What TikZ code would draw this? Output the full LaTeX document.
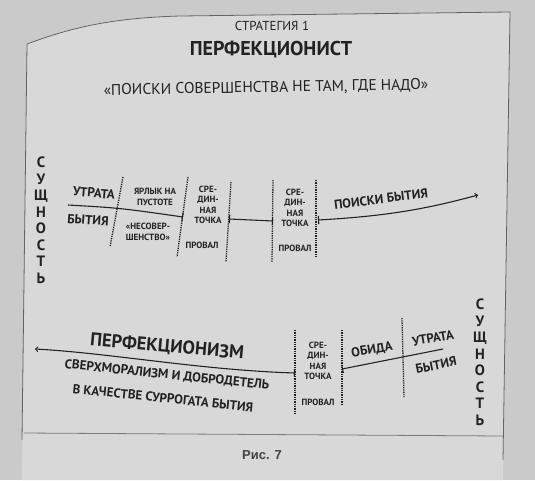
\documentclass[tikz,border=0pt]{standalone}
\usepackage{fontspec}
\setmainfont{PT Sans}
\newfontfamily\picfont{Liberation Sans}
\definecolor{ink}{HTML}{222222}
\definecolor{paper}{HTML}{D8D8D8}
\definecolor{desk}{HTML}{CACACA}
\tikzset{
  lbl/.style={font=\fontsize{9}{10.5}\selectfont\bfseries, text=ink, inner sep=0pt, align=center},
  word/.style={font=\fontsize{13}{14}\selectfont\bfseries, text=ink, inner sep=0pt},
  title/.style={font=\fontsize{20}{22}\selectfont\bfseries, text=ink, inner sep=0pt},
  vert/.style={font=\fontsize{15}{16.5}\selectfont\bfseries, text=ink, inner sep=0pt, align=center},
  divider/.style={densely dotted, line width=1.3pt, draw=ink},
  timeline/.style={line width=1.1pt, draw=ink}
}
\begin{document}
\begin{tikzpicture}[x=1pt,y=-1pt]
\useasboundingbox (0,0) rectangle (535,480);
\fill[desk] (0,0) rectangle (535,480);
% page
\fill[paper] (27,44) .. controls (70,28) and (110,18) .. (180,16) -- (510,12) -- (503,480) -- (22,480) -- cycle;
\draw[ink!70, line width=0.8pt] (22,440) -- (27,44) .. controls (70,28) and (110,18) .. (180,16) -- (510,12) -- (503,460);
\draw[ink!60, line width=0.8pt] (24,433) -- (503,436);

% heading
\node[font=\fontsize{13}{14}\selectfont, text=ink, inner sep=0pt] (S) at (272,26) {СТРАТЕГИЯ 1};
\node[title] (P) at (271,50) {ПЕРФЕКЦИОНИСТ};
\node[font=\fontsize{15.5}{17}\selectfont, text=ink, inner sep=0pt, rotate=1] (Q) at (266,88) {«ПОИСКИ СОВЕРШЕНСТВА НЕ ТАМ, ГДЕ НАДО»};

% upper timeline
\node[vert] (E1) at (41,220) {С\\У\\Щ\\Н\\О\\С\\Т\\Ь};
\coordinate (u1) at (68,205);
\coordinate (u2) at (183,217);
\coordinate (u3) at (229,219);
\coordinate (u4) at (273,221);
\coordinate (u5) at (318,220);
\coordinate (u6) at (478,195);
\draw[timeline,-|] (u1) .. controls (120,208) .. (u2);
\draw[timeline,|-|] (u3) -- (u4);
\draw[timeline,|->] (u5) .. controls (390,216) and (430,208) .. (u6);

% dotted dividers
\foreach \i/\xa/\ya/\xb/\yb in {1/123/177/110/247, 2/188/177/177/257, 3/231/182/226/262,
  4/273/180/272/262, 5/316/180/316/258, 6/295/330/295/413, 7/342/330/342/405, 8/402/318/404/397}{
  \coordinate (t\i) at (\xa,\ya);
  \coordinate (b\i) at (\xb,\yb);
  \draw[divider] (t\i) -- (b\i);
}

\node[word, rotate=-5] (A1) at (94,193) {УТРАТА};
\node[word, rotate=-4] (A2) at (88,220) {БЫТИЯ};
\node[lbl] (A3) at (155,197) {ЯРЛЫК НА\\ПУСТОТЕ};
\node[lbl] (A4) at (148,232) {«НЕСОВЕР-\\ШЕНСТВО»};
\node[lbl] (A5) at (208,205) {СРЕ-\\ДИН-\\НАЯ\\ТОЧКА};
\node[lbl] (A6) at (202,245) {ПРОВАЛ};
\node[lbl] (A7) at (295,208) {СРЕ-\\ДИН-\\НАЯ\\ТОЧКА};
\node[lbl] (A8) at (295,248) {ПРОВАЛ};
\node[word, rotate=7] (A9) at (381,199) {ПОИСКИ БЫТИЯ};

% lower timeline
\node[vert] (E2) at (480,362) {С\\У\\Щ\\Н\\О\\С\\Т\\Ь};
\coordinate (l1) at (443,349);
\coordinate (l2) at (342,369);
\coordinate (l3) at (295,373);
\coordinate (l4) at (35,349);
\draw[timeline,-|] (l1) -- (l2);
\draw[timeline,|->] (l3) .. controls (200,370) and (110,353) .. (l4);

\node[lbl] (B1) at (318,361) {СРЕ-\\ДИН-\\НАЯ\\ТОЧКА};
\node[lbl] (B2) at (318,402) {ПРОВАЛ};
\node[word, rotate=10] (B3) at (372,350) {ОБИДА};
\node[word, rotate=10] (B4) at (433,338) {УТРАТА};
\node[word, rotate=11] (B5) at (436,365) {БЫТИЯ};
\node[font=\fontsize{18.5}{20}\selectfont\bfseries, text=ink, inner sep=0pt, rotate=-5] (B6) at (167,347) {ПЕРФЕКЦИОНИЗМ};
\node[word, rotate=-6] (B7) at (167,375) {СВЕРХМОРАЛИЗМ И ДОБРОДЕТЕЛЬ};
\node[word, rotate=-6] (B8) at (163,398) {В КАЧЕСТВЕ СУРРОГАТА БЫТИЯ};

\node[font=\fontsize{13}{14}\selectfont\bfseries\picfont, text=ink!85, inner sep=0pt] (F) at (262,455) {Рис. 7};
\end{tikzpicture}
\end{document}
